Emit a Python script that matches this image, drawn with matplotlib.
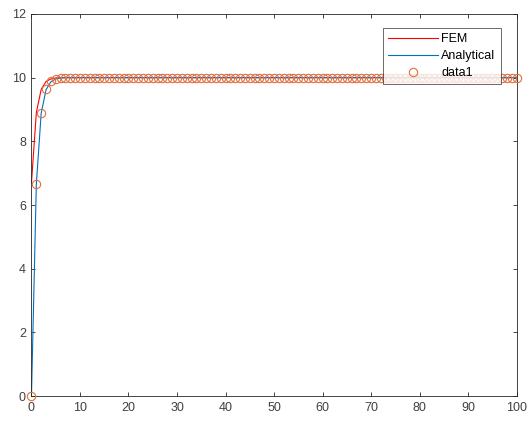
import numpy as np
import matplotlib.pyplot as plt

# values
x_vals = np.arange(0, 101)
analytical = [0.0, 6.65, 8.88, 9.62, 9.87, 9.96, 9.99] + [10.0] * 94
fem_x = np.arange(0, 100)
fem = [6.7, 8.9, 9.63, 9.88, 9.96, 9.99] + [10.0] * 94
data1 = [0.0, 6.65, 8.9, 9.64, 9.88, 9.96, 9.99] + [10.0] * 94

x_ticks = np.arange(0, 101, 10)
y_ticks = np.arange(0, 13, 2)

plt.rcParams['font.family'] = ['Liberation Sans', 'DejaVu Sans']
AX_CLR = '#262626'
LBL_CLR = '#404040'

fig = plt.figure(figsize=(5.29, 4.24), dpi=100)
ax = fig.add_axes([0.0595, 0.066, 0.917, 0.901])

ax.plot(fem_x, fem, color='#ff0000', lw=0.8, label='FEM')
ax.plot(x_vals, analytical, color='#0072bd', lw=0.8, label='Analytical')
ax.plot(x_vals, data1, 'o', ms=6, mfc='none', mec='#e2703f', mew=0.8,
        linestyle='none', label='data1', clip_on=False, zorder=3)

ax.set_xlim(0, 100)
ax.set_ylim(0, 12)
ax.set_xticks(x_ticks)
ax.set_yticks(y_ticks)
ax.tick_params(direction='in', length=3, width=0.6, colors=AX_CLR,
               labelcolor=LBL_CLR, labelsize=9, top=True, right=True, pad=4)
for sp in ax.spines.values():
    sp.set_color(AX_CLR)
    sp.set_linewidth(0.6)

leg = ax.legend(loc='upper right', bbox_to_anchor=(0.967, 0.963), fontsize=9,
                frameon=True, fancybox=False, edgecolor=AX_CLR,
                handlelength=4.0, handletextpad=0.3, borderpad=0.4,
                labelspacing=0.4, borderaxespad=0)
leg.get_frame().set_linewidth(0.6)
leg.set_zorder(5)

fig.savefig('out.png', dpi=100, facecolor='white')
